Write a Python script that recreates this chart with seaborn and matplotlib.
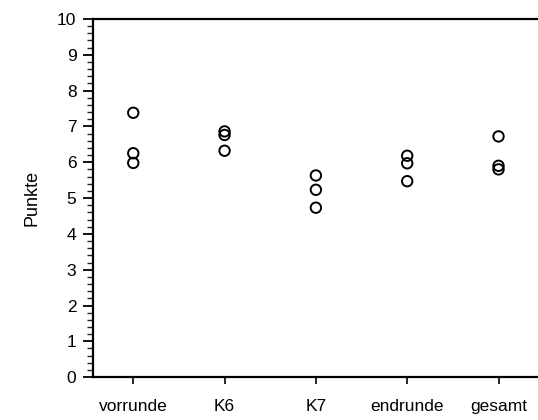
import numpy as np
import pandas as pd
import matplotlib
matplotlib.use("Agg")
import matplotlib.pyplot as plt
from matplotlib.ticker import MultipleLocator
import seaborn as sns

# Werte
runden = ["vorrunde", "K6", "K7", "endrunde", "gesamt"]
vorrunde = [7.38, 6.25, 5.98]
k6 = [6.86, 6.76, 6.32]
k7 = [5.63, 5.23, 4.73]
endrunde = [6.18, 5.97, 5.47]
gesamt = [6.72, 5.90, 5.80]

werte = [vorrunde, k6, k7, endrunde, gesamt]
df = pd.DataFrame({
    "runde": np.repeat(runden, [len(w) for w in werte]),
    "punkte": np.concatenate(werte),
})

sns.set_style("ticks")
plt.rcParams["font.family"] = ["Liberation Sans", "DejaVu Sans"]
plt.rcParams["text.color"] = "black"
plt.rcParams["axes.labelcolor"] = "black"

fig = plt.figure(figsize=(5.38, 4.2), dpi=100)
ax = fig.add_axes([0.173, 0.102, 0.83, 0.853])

sns.stripplot(data=df, x="runde", y="punkte", order=runden, jitter=False,
              marker="o", size=7.5, facecolors="none", edgecolor="black",
              linewidth=1.4, ax=ax)

ax.set_ylim(0, 10)
ax.set_xlim(-0.44, 4.45)
ax.yaxis.set_major_locator(MultipleLocator(1))
ax.yaxis.set_minor_locator(MultipleLocator(0.2))
ax.tick_params(axis="y", which="major", direction="out", length=7, width=1.3,
               labelsize=12.5, pad=5, colors="black")
ax.tick_params(axis="y", which="minor", direction="out", length=4, width=1.0)
ax.tick_params(axis="x", direction="out", length=5, width=1.2, labelsize=12.5,
               pad=11, colors="black")
for s in ["left", "bottom", "top"]:
    ax.spines[s].set_linewidth(1.6)
    ax.spines[s].set_color("black")
ax.spines["right"].set_visible(False)

ax.set_xlabel("")
ax.set_ylabel("Punkte", fontsize=13, labelpad=12)

fig.savefig("out.png", dpi=100)
